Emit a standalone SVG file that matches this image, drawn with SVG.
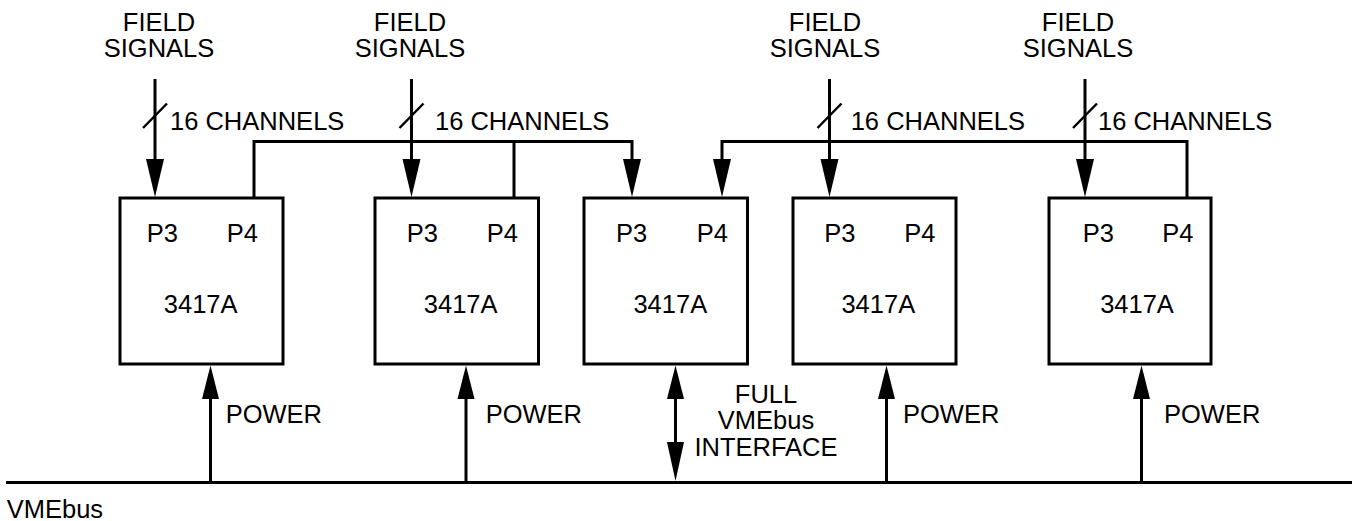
<svg xmlns="http://www.w3.org/2000/svg" width="1356" height="521" viewBox="0 0 1356 521">
<style>
  text { font-family: "Liberation Sans", Arial, Helvetica, sans-serif; font-size: 25.5px; fill: #000; }
  .mid { text-anchor: middle; }
  .box { fill: #fff; stroke: #000; stroke-width: 3; }
  .ln { fill: none; stroke: #000; stroke-width: 3; }
  .sl { fill: none; stroke: #000; stroke-width: 2.5; }
  .ah { fill: #000; stroke: none; }
</style>
<rect x="0" y="0" width="1356" height="521" fill="#fff"/>

<g id="connectors">
  <!-- VMEbus line -->
  <line class="ln" x1="6" y1="482.5" x2="1352" y2="482.5"/>

  <!-- field signal inputs -->
  <line class="ln" x1="155" y1="79" x2="155" y2="165"/>
  <polygon class="ah" points="146,159 164,159 155,197"/>
  <line class="sl" x1="143" y1="128" x2="167" y2="103.5"/>

  <line class="ln" x1="411.5" y1="79" x2="411.5" y2="165"/>
  <polygon class="ah" points="402.5,159 420.5,159 411.5,197"/>
  <line class="sl" x1="399.5" y1="128" x2="423.5" y2="103.5"/>

  <line class="ln" x1="829.5" y1="79" x2="829.5" y2="165"/>
  <polygon class="ah" points="820.5,159 838.5,159 829.5,197"/>
  <line class="sl" x1="817.5" y1="128" x2="841.5" y2="103.5"/>

  <line class="ln" x1="1085" y1="79" x2="1085" y2="165"/>
  <polygon class="ah" points="1076,159 1094,159 1085,197"/>
  <line class="sl" x1="1073" y1="128" x2="1097" y2="103.5"/>

  <!-- P4 links (left) -->
  <polyline class="ln" points="254,198 254,141.5 632,141.5 632,165"/>
  <line class="ln" x1="514" y1="141.5" x2="514" y2="198"/>
  <polygon class="ah" points="623,159 641,159 632,197"/>

  <!-- P4 links (right) -->
  <polyline class="ln" points="722,165 722,141.5 1187,141.5 1187,198"/>
  <polygon class="ah" points="713,159 731,159 722,197"/>

  <!-- power arrows -->
  <line class="ln" x1="210.5" y1="482.5" x2="210.5" y2="395"/>
  <polygon class="ah" points="202,399 219,399 210.5,365.5"/>
  <line class="ln" x1="466" y1="482.5" x2="466" y2="395"/>
  <polygon class="ah" points="457.5,399 474.5,399 466,365.5"/>
  <line class="ln" x1="886.5" y1="482.5" x2="886.5" y2="395"/>
  <polygon class="ah" points="878,399 895,399 886.5,365.5"/>
  <line class="ln" x1="1141.5" y1="482.5" x2="1141.5" y2="395"/>
  <polygon class="ah" points="1133,399 1150,399 1141.5,365.5"/>

  <!-- full VMEbus interface -->
  <line class="ln" x1="675.5" y1="395" x2="675.5" y2="446"/>
  <polygon class="ah" points="667,399 684,399 675.5,365.5"/>
  <polygon class="ah" points="667,442 684,442 675.5,481"/>
</g>

<g id="node1">
  <rect class="box" x="120" y="198" width="163" height="166"/>
  <text x="146.7" y="241.7">P3</text>
  <text x="226.7" y="241.7">P4</text>
  <text class="mid" x="200.7" y="312.7">3417A</text>
</g>
<g id="node2">
  <rect class="box" x="375" y="198" width="163.5" height="166"/>
  <text x="406.7" y="241.7">P3</text>
  <text x="486.7" y="241.7">P4</text>
  <text class="mid" x="460.7" y="312.7">3417A</text>
</g>
<g id="node3">
  <rect class="box" x="584" y="198" width="163.5" height="166"/>
  <text x="616" y="241.7">P3</text>
  <text x="696.7" y="241.7">P4</text>
  <text class="mid" x="670.3" y="312.7">3417A</text>
</g>
<g id="node4">
  <rect class="box" x="793" y="198" width="163" height="166"/>
  <text x="824.3" y="241.7">P3</text>
  <text x="904.3" y="241.7">P4</text>
  <text class="mid" x="878.3" y="312.7">3417A</text>
</g>
<g id="node5">
  <rect class="box" x="1049" y="198" width="162" height="166"/>
  <text x="1082.7" y="241.7">P3</text>
  <text x="1162.3" y="241.7">P4</text>
  <text class="mid" x="1137" y="312.7">3417A</text>
</g>

<g id="labels">
  <text class="mid" x="159" y="31">FIELD</text>
  <text class="mid" x="159" y="56.5">SIGNALS</text>
  <text class="mid" x="410" y="31">FIELD</text>
  <text class="mid" x="410" y="56.5">SIGNALS</text>
  <text class="mid" x="825" y="31">FIELD</text>
  <text class="mid" x="825" y="56.5">SIGNALS</text>
  <text class="mid" x="1078" y="31">FIELD</text>
  <text class="mid" x="1078" y="56.5">SIGNALS</text>

  <text x="170" y="130">16 CHANNELS</text>
  <text x="435" y="130">16 CHANNELS</text>
  <text x="850.7" y="130">16 CHANNELS</text>
  <text x="1098" y="130">16 CHANNELS</text>

  <text x="225.7" y="422.5">POWER</text>
  <text x="485.7" y="422.5">POWER</text>
  <text x="903" y="422.5">POWER</text>
  <text x="1164" y="422.5">POWER</text>

  <text class="mid" x="766" y="403">FULL</text>
  <text class="mid" x="766" y="429">VMEbus</text>
  <text class="mid" x="766" y="456">INTERFACE</text>

  <text x="6.7" y="517.7">VMEbus</text>
</g>
</svg>
